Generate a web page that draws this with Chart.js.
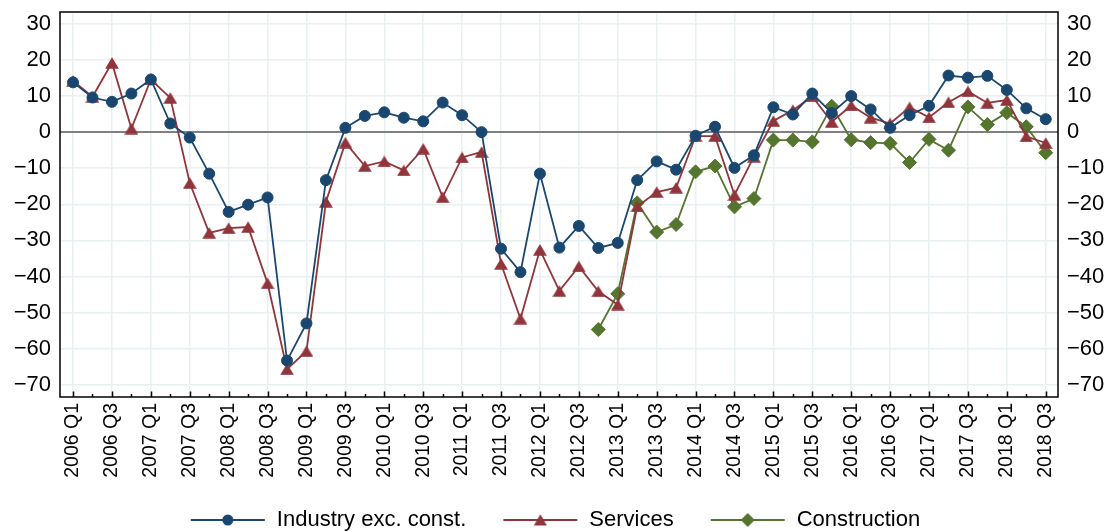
<!DOCTYPE html>
<html>
<head>
<meta charset="utf-8">
<script src="https://cdn.jsdelivr.net/npm/chart.js@4/dist/chart.umd.min.js"></script>
<style>
  html, body { margin: 0; padding: 0; background: #fff; }
  canvas { display: block; }
</style>
</head>
<body>
<canvas id="chart" width="1110" height="531"></canvas>
<script>
const quarters = [
  "2006 Q1", "2006 Q2", "2006 Q3", "2006 Q4",
  "2007 Q1", "2007 Q2", "2007 Q3", "2007 Q4",
  "2008 Q1", "2008 Q2", "2008 Q3", "2008 Q4",
  "2009 Q1", "2009 Q2", "2009 Q3", "2009 Q4",
  "2010 Q1", "2010 Q2", "2010 Q3", "2010 Q4",
  "2011 Q1", "2011 Q2", "2011 Q3", "2011 Q4",
  "2012 Q1", "2012 Q2", "2012 Q3", "2012 Q4",
  "2013 Q1", "2013 Q2", "2013 Q3", "2013 Q4",
  "2014 Q1", "2014 Q2", "2014 Q3", "2014 Q4",
  "2015 Q1", "2015 Q2", "2015 Q3", "2015 Q4",
  "2016 Q1", "2016 Q2", "2016 Q3", "2016 Q4",
  "2017 Q1", "2017 Q2", "2017 Q3", "2017 Q4",
  "2018 Q1", "2018 Q2", "2018 Q3",
];

const industry = [
  13.8, 9.6, 8.4, 10.7, 14.6, 2.4, -1.5, -11.5, -22.1, -20.1,
  -18.1, -63.3, -53, -13.3, 1.2, 4.5, 5.5, 4.0, 3.0, 8.2,
  4.7, 0, -32.3, -38.8, -11.5, -32, -26, -32.1, -30.7, -13.3,
  -8.1, -10.4, -1.0, 1.5, -9.9, -6.4, 6.9, 4.9, 10.7, 5.3,
  10, 6.3, 1.2, 4.7, 7.3, 15.7, 15.1, 15.6, 11.7, 6.6, 3.6,
];

const services = [
  14.2, 9.8, 19.2, 1.0, 14.6, 9.5, -14.1, -27.9, -26.6, -26.3,
  -41.9, -65.7, -60.7, -19.3, -2.9, -9.4, -8.1, -10.6, -4.6, -18,
  -7.0, -5.5, -36.5, -51.7, -32.6, -44, -37.2, -44.1, -47.8, -20.6,
  -16.6, -15.4, -1.1, -1.1, -17.4, -6.8, 3.1, 6.1, 9.9, 2.8,
  7.4, 4.0, 2.4, 6.9, 4.1, 8.3, 11.3, 8.1, 8.9, -1.2, -3.0,
];

// construction series only starts in 2012 Q4
const constructionStart = "2012 Q4";
const construction = [
  -54.7, -44.8, -19.6, -27.7, -25.6, -11, -9.4, -20.7, -18.4, -2.2,
  -2.2, -2.7, 7.2, -2.1, -2.9, -3.1, -8.4, -2.0, -5.0, 7.0,
  2.1, 5.4, 1.5, -5.7,
];

const yTicks = [30, 20, 10, 0, -10, -20, -30, -40, -50, -60, -70];

const NAVY = "#1a476f";
const MAROON = "#90353b";
const GREEN = "#55752f";
const GRID = "#e8f0f2";

Chart.defaults.font.family = "'Liberation Sans', Arial, sans-serif";
Chart.defaults.color = "#000";

// triangle marker with its box centred on the point
function triangleImage(color) {
  const c = document.createElement("canvas");
  c.width = 14;
  c.height = 12;
  const g = c.getContext("2d");
  g.fillStyle = color;
  g.beginPath();
  g.moveTo(7, 0.2);
  g.lineTo(13.9, 11.8);
  g.lineTo(0.1, 11.8);
  g.closePath();
  g.fill();
  return c;
}

// legend key: short line with the marker in the middle
function legendIcon(color, marker) {
  const c = document.createElement("canvas");
  c.width = 76;
  c.height = 14;
  const g = c.getContext("2d");
  g.strokeStyle = color;
  g.lineWidth = 1.8;
  g.beginPath();
  g.moveTo(1, 7);
  g.lineTo(75, 7);
  g.stroke();
  g.fillStyle = color;
  g.beginPath();
  if (marker === "circle") {
    g.arc(38, 7, 5.5, 0, Math.PI * 2);
  } else if (marker === "triangle") {
    g.moveTo(38, 1.2);
    g.lineTo(44.5, 12.6);
    g.lineTo(31.5, 12.6);
    g.closePath();
  } else {
    g.moveTo(38, 0);
    g.lineTo(45, 7);
    g.lineTo(38, 14);
    g.lineTo(31, 7);
    g.closePath();
  }
  g.fill();
  return c;
}

const icons = [
  legendIcon(NAVY, "circle"),
  legendIcon(MAROON, "triangle"),
  legendIcon(GREEN, "diamond"),
];

const startIdx = quarters.indexOf(constructionStart);
const toPoints = (arr, offset) => arr.map((v, i) => ({ x: offset + i, y: v }));

// black frame round the plot and inward ticks on the time axis
const framePlugin = {
  id: "frame",
  afterLayout(chart) {
    // the rotated quarter labels run below the axis box, don't clip them
    chart.scales.x.bottom = chart.height;
  },
  beforeDatasetsDraw(chart) {
    const { ctx, chartArea: a, scales } = chart;
    ctx.save();
    ctx.strokeStyle = "#000";
    ctx.lineWidth = 1.5;
    ctx.beginPath();
    quarters.forEach((q, i) => {
      const x = Math.round(scales.x.getPixelForValue(i)) + 0.5;
      const len = i % 2 === 0 ? 5.5 : 3;
      ctx.moveTo(x, a.bottom);
      ctx.lineTo(x, a.bottom - len);
    });
    ctx.stroke();
    ctx.strokeRect(a.left, a.top, a.right - a.left, a.bottom - a.top);
    ctx.restore();
  },
};

const yAxisBase = {
  min: -73.4,
  max: 33.3,
  afterBuildTicks: (axis) => {
    axis.ticks = yTicks.map((v) => ({ value: v }));
  },
  border: { display: false },
  ticks: {
    font: { size: 22 },
    padding: 9,
    callback: (v) => (v < 0 ? "\u2212" + Math.abs(v) : String(v)),
  },
};

new Chart(document.getElementById("chart"), {
  type: "line",
  data: {
    datasets: [
      {
        label: "Industry exc. const.",
        data: toPoints(industry, 0),
        borderColor: NAVY,
        backgroundColor: NAVY,
        borderWidth: 1.8,
        pointStyle: "circle",
        pointRadius: 5.5,
        pointBorderWidth: 1,
        tension: 0,
      },
      {
        label: "Services",
        data: toPoints(services, 0),
        borderColor: MAROON,
        backgroundColor: MAROON,
        borderWidth: 1.8,
        pointStyle: triangleImage(MAROON),
        tension: 0,
      },
      {
        label: "Construction",
        data: toPoints(construction, startIdx),
        borderColor: GREEN,
        backgroundColor: GREEN,
        borderWidth: 1.8,
        pointStyle: "rectRot",
        pointRadius: 7,
        pointBorderWidth: 1,
        tension: 0,
      },
    ],
  },
  options: {
    responsive: false,
    animation: false,
    events: [],
    layout: { padding: { top: 12, bottom: -10, left: 0, right: 0 } },
    plugins: {
      tooltip: { enabled: false },
      legend: {
        position: "bottom",
        labels: {
          usePointStyle: true,
          pointStyleWidth: 76,
          padding: 36,
          font: { size: 22 },
          color: "#000",
          generateLabels: (chart) =>
            Chart.defaults.plugins.legend.labels
              .generateLabels(chart)
              .map((item, i) => ({ ...item, pointStyle: icons[i] })),
        },
      },
    },
    scales: {
      x: {
        type: "linear",
        min: -0.67,
        max: 50.63,
        afterBuildTicks: (axis) => {
          axis.ticks = quarters.map((q, i) => ({ value: i }));
        },
        afterFit: (axis) => {
          axis.height = 76;
          axis.paddingLeft = 0;
          axis.paddingRight = 0;
        },
        border: { display: false },
        grid: {
          drawTicks: false,
          color: (ctx) => (ctx.tick && ctx.tick.value % 2 === 0 ? GRID : "rgba(0,0,0,0)"),
          lineWidth: 1.5,
        },
        ticks: {
          autoSkip: false,
          minRotation: 90,
          maxRotation: 90,
          padding: 6,
          font: { size: 19.5 },
          callback: (v) => (v % 2 === 0 ? quarters[v] : ""),
        },
      },
      y: {
        ...yAxisBase,
        position: "left",
        afterFit: (axis) => {
          axis.width = 60;
          axis.paddingTop = 0;
          axis.paddingBottom = 0;
        },
        grid: {
          drawTicks: false,
          color: (ctx) => (ctx.tick && ctx.tick.value === 0 ? "#808080" : GRID),
          lineWidth: (ctx) => (ctx.tick && ctx.tick.value === 0 ? 2 : 1.5),
        },
      },
      y2: {
        ...yAxisBase,
        position: "right",
        afterFit: (axis) => {
          axis.width = 52;
          axis.paddingTop = 0;
          axis.paddingBottom = 0;
        },
        grid: { drawOnChartArea: false, drawTicks: false },
      },
    },
  },
  plugins: [framePlugin],
});
</script>
</body>
</html>
